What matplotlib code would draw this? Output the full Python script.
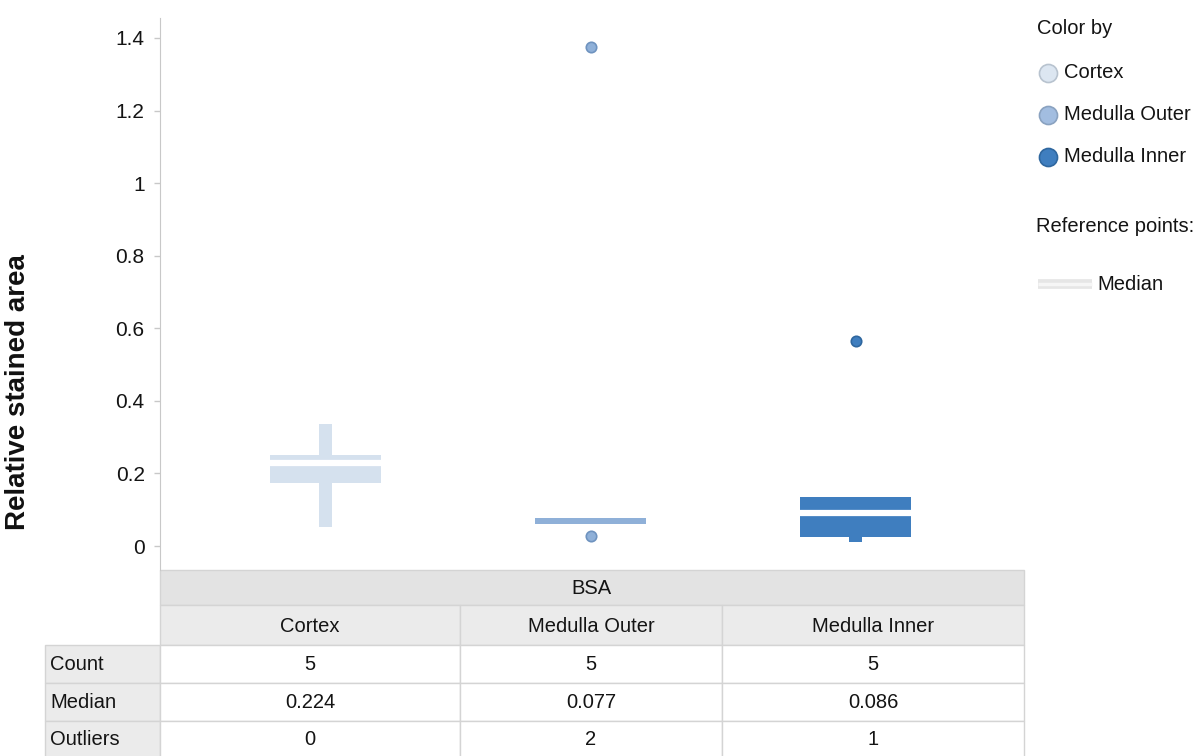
import matplotlib
matplotlib.use("Agg")
import matplotlib.pyplot as plt
from matplotlib.patches import Rectangle
from matplotlib.ticker import FuncFormatter

# values
regions = ["Cortex", "Medulla Outer", "Medulla Inner"]
q1 = [0.174, 0.062, 0.025]
q3 = [0.250, 0.076, 0.135]
med_line = [0.229, 0.077, 0.091]
whisk_lo = [0.052, 0.062, 0.011]
whisk_hi = [0.336, 0.076, 0.135]
outliers = [[], [0.028, 1.375], [0.565]]

counts = [5, 5, 5]
medians = ["0.224", "0.077", "0.086"]
n_outliers = [0, 2, 1]

colors = ["#d5e1ee", "#8fb0d8", "#3f7ebf"]
edges = ["#b9c8d8", "#6f93bf", "#2f679f"]

plt.rcParams["font.family"] = ["Liberation Sans", "DejaVu Sans"]
fs = 14.5
tc = "#141414"

W, H = 1198, 756
fig = plt.figure(figsize=(W / 100, H / 100), dpi=100)

# pixel overlay for table + legend
ov = fig.add_axes([0, 0, 1, 1])
ov.set_xlim(0, W)
ov.set_ylim(H, 0)
ov.axis("off")

ax = fig.add_axes([160 / W, 1 - 570 / H, (1024 - 160) / W, (570 - 18) / H])
ax.patch.set_alpha(0)
ax.set_xlim(-0.625, 2.635)
ax.set_ylim(-0.066, 1.455)

bw = 0.42
ww = 0.05
for i in range(3):
    if whisk_hi[i] > whisk_lo[i]:
        ax.bar(i, whisk_hi[i] - whisk_lo[i], bottom=whisk_lo[i], width=ww,
               color=colors[i], zorder=2)
    ax.bar(i, q3[i] - q1[i], bottom=q1[i], width=bw, color=colors[i], zorder=3)
    if q1[i] < med_line[i] < q3[i]:
        ax.plot([i - bw / 2, i + bw / 2], [med_line[i], med_line[i]],
                color="white", lw=4.5, solid_capstyle="butt", zorder=4)
    for v in outliers[i]:
        ax.plot(i, v, "o", ms=7.5, color=colors[i], mec=edges[i], mew=1.2, zorder=5)

for s in ["top", "right", "bottom"]:
    ax.spines[s].set_visible(False)
ax.spines["left"].set_color("#c8c8c8")
ax.set_xticks([])
ax.set_yticks([0, 0.2, 0.4, 0.6, 0.8, 1.0, 1.2, 1.4])
ax.yaxis.set_major_formatter(FuncFormatter(lambda v, p: "%g" % round(v, 1)))
ax.tick_params(axis="y", length=4, width=1, color="#c8c8c8", pad=7,
               labelsize=15, labelcolor=tc)

fig.text(18 / W, 1 - 392 / H, "Relative stained area", rotation=90,
         ha="center", va="center", fontsize=20, fontweight="bold", color="#111111")

# table under the plot
lc = "#d4d4d4"
col_x = [160, 460, 722, 1024]
row_y = [645, 683, 721, 758]
ov.add_patch(Rectangle((160, 570), 864, 35, fc="#e3e3e3", ec=lc, lw=1))
ov.text(591, 588, "BSA", ha="center", va="center", fontsize=fs, color=tc)
for j in range(3):
    x0, x1 = col_x[j], col_x[j + 1]
    ov.add_patch(Rectangle((x0, 605), x1 - x0, 40, fc="#ebebeb", ec=lc, lw=1))
    ov.text((x0 + x1) / 2, 627, regions[j], ha="center", va="center",
            fontsize=fs, color=tc)

row_names = ["Count", "Median", "Outliers"]
row_vals = [counts, medians, n_outliers]
for r in range(3):
    y0, y1 = row_y[r], row_y[r + 1]
    ov.add_patch(Rectangle((45, y0), 115, y1 - y0, fc="#ebebeb", ec=lc, lw=1))
    ov.text(50, (y0 + y1) / 2, row_names[r], ha="left", va="center",
            fontsize=fs, color=tc)
    for j in range(3):
        x0, x1 = col_x[j], col_x[j + 1]
        ov.add_patch(Rectangle((x0, y0), x1 - x0, y1 - y0, fc="white", ec=lc, lw=1))
        ov.text((x0 + x1) / 2, (y0 + y1) / 2, str(row_vals[r][j]), ha="center",
                va="center", fontsize=fs, color=tc)

# legend
ov.text(1037, 28, "Color by", ha="left", va="center", fontsize=fs, color=tc)
leg_fill = ["#dce6f1", "#a2bde0", "#3f7ebf"]
leg_edge = ["#b8c3cf", "#8aa2c0", "#2f679f"]
for k in range(3):
    ly = 73 + 42 * k
    ov.plot(1048, ly, "o", ms=13, color=leg_fill[k], mec=leg_edge[k], mew=1.2)
    ov.text(1064, ly, regions[k], ha="left", va="center", fontsize=fs, color=tc)
ov.text(1036, 226, "Reference points:", ha="left", va="center", fontsize=fs,
        color=tc)
ov.plot([1038, 1092], [284, 284], color="#e6e6e6", lw=7, solid_capstyle="butt")
ov.plot([1038, 1092], [284, 284], color="#f6f6f6", lw=2.5, solid_capstyle="butt")
ov.text(1097, 284, "Median", ha="left", va="center", fontsize=fs, color=tc)

fig.savefig("out.png", dpi=100)
